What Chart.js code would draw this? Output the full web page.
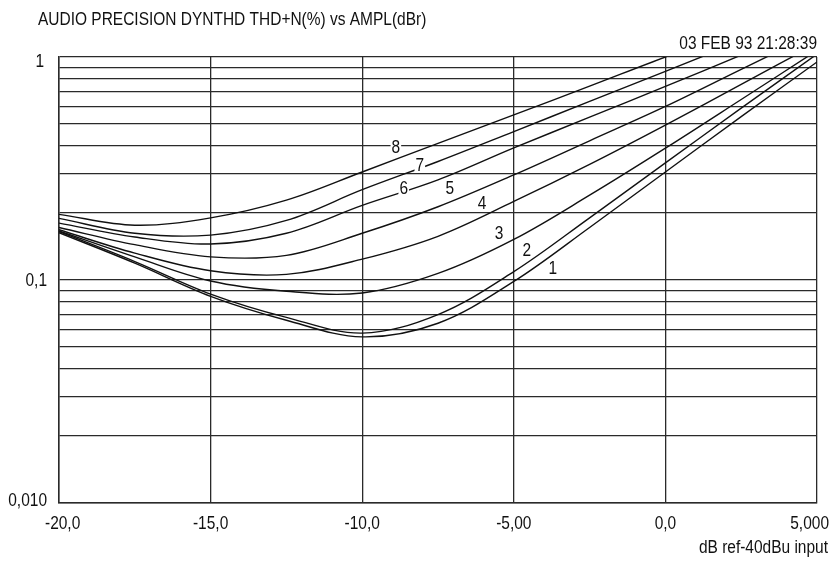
<!DOCTYPE html>
<html>
<head>
<meta charset="utf-8">
<title>AUDIO PRECISION DYNTHD THD+N(%) vs AMPL(dBr)</title>
<script src="https://cdn.jsdelivr.net/npm/chart.js@4.4.1/dist/chart.umd.min.js"></script>
<style>
  html, body { margin: 0; padding: 0; background: #fff; }
  #wrap { width: 833px; height: 563px; }
</style>
</head>
<body>
<div id="wrap"><canvas id="thdChart" width="833" height="563"></canvas></div>
<script>
var ampl = [-20, -17.5, -15, -12.5, -10, -7.5, -5, -2.5, 0, 2.5, 5];

// THD+N (%) per curve, 1 = lowest ... 8 = highest
var thd1 = [0.163, 0.119, 0.0845, 0.066, 0.0556, 0.064, 0.0985, 0.172, 0.305, 0.54, 0.95];
var thd2 = [0.165, 0.121, 0.0865, 0.068, 0.0578, 0.070, 0.109, 0.190, 0.335, 0.59, 1.03];
var thd3 = [0.166, 0.127, 0.099, 0.089, 0.0875, 0.107, 0.152, 0.240, 0.390, 0.645, 1.07];
var thd4 = [0.168, 0.132, 0.110, 0.106, 0.124, 0.157, 0.225, 0.330, 0.495, 0.753, 1.15];
var thd5 = [0.172, 0.144, 0.127, 0.129, 0.162, 0.213, 0.296, 0.421, 0.600, 0.880, 1.29];
var thd6 = [0.180, 0.156, 0.145, 0.162, 0.216, 0.281, 0.391, 0.537, 0.738, 1.02, 1.42];
var thd7 = [0.189, 0.162, 0.159, 0.185, 0.254, 0.340, 0.463, 0.632, 0.862, 1.18, 1.61];
var thd8 = [0.197, 0.176, 0.190, 0.228, 0.305, 0.410, 0.550, 0.740, 1.00, 1.33, 1.75];

var curveNames = ['1', '2', '3', '4', '5', '6', '7', '8'];
// where each curve number is written (dBr, %)
var curveLabelX = [-3.71, -4.57, -5.49, -6.05, -7.11, -8.63, -8.10, -8.89];
var curveLabelY = [0.113, 0.136, 0.163, 0.222, 0.259, 0.259, 0.328, 0.396];

var xTickValues = [-20, -15, -10, -5, 0, 5];
var xTickLabels = ['-20,0', '-15,0', '-10,0', '-5,00', '0,0', '5,000'];
var yTickValues = [0.01, 0.02, 0.03, 0.04, 0.05, 0.06, 0.07, 0.08, 0.09,
                   0.1, 0.2, 0.3, 0.4, 0.5, 0.6, 0.7, 0.8, 0.9, 1];
var yLabelValues = [1, 0.1, 0.01];
var yLabelTexts = ['1', '0,1', '0,010'];

var titleText = 'AUDIO PRECISION DYNTHD THD+N(%) vs AMPL(dBr)';
var dateText = '03 FEB 93 21:28:39';
var xTitle = 'dB ref-40dBu input';

var FONT = "'Liberation Sans', Arial, sans-serif";
var SQUEEZE = 0.86;   // narrow the type like the plotter's condensed face
var INK = '#111';
var GRID = '#2a2a2a';

function makeSet(values) {
  var pts = [];
  ampl.forEach(function(a, i) {
    pts.push({ x: a, y: values[i] });
  });
  return {
    data: pts,
    borderColor: INK,
    borderWidth: 1.4,
    pointRadius: 0,
    fill: false,
    tension: 0.35
  };
}

function drawText(ctx, str, x, y, align) {
  ctx.save();
  ctx.translate(x, y);
  ctx.scale(SQUEEZE, 1);
  ctx.textAlign = align;
  ctx.fillText(str, 0, 0);
  ctx.restore();
}

// all the text: titles, tick labels and curve numbers
var textPlugin = {
  id: 'apText',
  afterDraw: function(chart) {
    var ctx = chart.ctx;
    var xs = chart.scales.x;
    var ys = chart.scales.y;
    ctx.save();
    ctx.fillStyle = INK;
    ctx.font = '18px ' + FONT;
    ctx.textBaseline = 'alphabetic';

    drawText(ctx, titleText, 38, 25, 'left');
    drawText(ctx, dateText, 817, 49, 'right');
    drawText(ctx, xTitle, 828, 553, 'right');

    // x tick labels, end ones kept inside the page
    xTickValues.forEach(function(v, i) {
      var px = xs.getPixelForValue(v);
      if (i == 0) {
        drawText(ctx, xTickLabels[i], px - 14, 529, 'left');
      } else if (i == xTickValues.length - 1) {
        drawText(ctx, xTickLabels[i], 829, 529, 'right');
      } else {
        drawText(ctx, xTickLabels[i], px, 529, 'center');
      }
    });

    // y labels only on the decades, top and bottom pulled inside the frame
    yLabelValues.forEach(function(v, i) {
      var py = ys.getPixelForValue(v) + 6;
      var px = 47;
      if (i == 0) { py = py + 4; px = 44; }
      if (i == yLabelValues.length - 1) py = py - 3;
      drawText(ctx, yLabelTexts[i], px, py, 'right');
    });

    // curve numbers
    ctx.textBaseline = 'middle';
    curveNames.forEach(function(name, i) {
      var px = xs.getPixelForValue(curveLabelX[i]);
      var py = ys.getPixelForValue(curveLabelY[i]);
      var w = ctx.measureText(name).width * SQUEEZE;
      ctx.fillStyle = '#fff';
      ctx.fillRect(px - w / 2 - 1, py - 7, w + 2, 14);
      ctx.fillStyle = INK;
      drawText(ctx, name, px, py + 1, 'center');
    });
    ctx.restore();
  }
};

var ctx = document.getElementById('thdChart');
var thdChart = new Chart(ctx, {
  type: 'line',
  data: {
    datasets: [makeSet(thd1), makeSet(thd2), makeSet(thd3), makeSet(thd4),
               makeSet(thd5), makeSet(thd6), makeSet(thd7), makeSet(thd8)]
  },
  options: {
    responsive: false,
    animation: false,
    layout: { padding: { top: 57, right: 16, bottom: 0, left: 0 } },
    plugins: {
      legend: { display: false },
      tooltip: { enabled: false }
    },
    scales: {
      x: {
        type: 'linear',
        min: -20,
        max: 5,
        ticks: { stepSize: 5, display: false },
        grid: { color: GRID, lineWidth: 1.3, drawTicks: false },
        border: { color: GRID, width: 1.5 },
        afterFit: function(scale) {
          scale.height = 60;
          scale.paddingLeft = 0;
          scale.paddingRight = 0;
        }
      },
      y: {
        type: 'logarithmic',
        min: 0.01,
        max: 1,
        afterBuildTicks: function(scale) {
          scale.ticks = yTickValues.map(function(v) { return { value: v }; });
        },
        ticks: { display: false, autoSkip: false },
        grid: { color: GRID, lineWidth: 1.3, drawTicks: false },
        border: { color: GRID, width: 1.5 },
        afterFit: function(scale) {
          scale.width = 59;
          scale.paddingTop = 0;
          scale.paddingBottom = 0;
        }
      }
    }
  },
  plugins: [textPlugin]
});
</script>
</body>
</html>
